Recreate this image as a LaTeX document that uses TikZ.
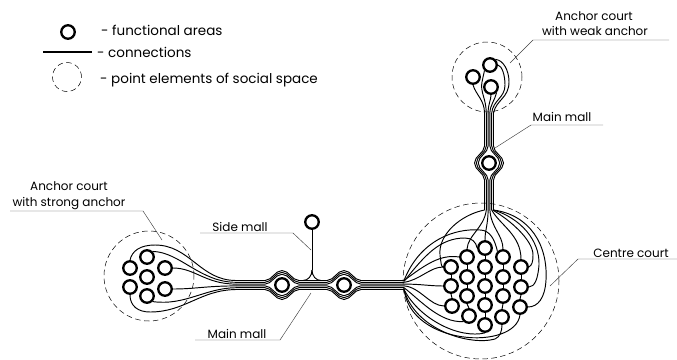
\documentclass[tikz,border=0pt]{standalone}
\usepackage{fontspec}
\setmainfont{Poppins}
\usetikzlibrary{calc}

% Estilos del dibujo
\tikzset{
  area/.style={circle, draw, line width=2.3pt, minimum size=13.5pt, inner sep=0pt},
  social/.style={circle, draw, line width=0.5pt, dash pattern=on 5.5pt off 3.5pt, inner sep=0pt},
  conexion/.style={line width=0.95pt},
  guia/.style={line width=0.45pt, black!75},
  rotulo/.style={font=\fontsize{12}{14}\selectfont, inner sep=0pt, anchor=base},
  leyenda/.style={font=\fontsize{13.5}{16}\selectfont, inner sep=0pt, anchor=base west},
}

\begin{document}
\begin{tikzpicture}[x=1pt, y=-1pt]
\useasboundingbox (0,0) rectangle (677,359);

% Leyenda arriba a la izquierda
\node[area] (leyArea) at (68,32) {};
\node[leyenda] (leyAreaT) at (101,35) {- functional areas};
\coordinate (leyIni) at (43,52);
\coordinate (leyFin) at (92,52);
\draw[line width=1.8pt] (leyIni) -- (leyFin);
\node[leyenda] (leyConT) at (97,57) {- connections};
\node[social, minimum size=29pt] (leySoc) at (67,77) {};
\node[leyenda] (leySocT) at (100,83) {- point elements of social space};

% Los espacios sociales (circulos discontinuos)
\node[social, minimum size=70pt] (zonaDebil) at (487,77) {};
\node[social, minimum size=90pt] (zonaFuerte) at (149,276) {};
\node[social, minimum size=156pt] (zonaCentro) at (481,281) {};

% Areas funcionales: ancla debil
\node[area] (wa) at (473,77) {};
\node[area] (wb) at (490,65) {};
\node[area] (wc) at (491,87) {};

% Areas funcionales: ancla fuerte
\node[area] (s1) at (147,257) {};
\node[area] (s2) at (130,268) {};
\node[area] (s3) at (165,268) {};
\node[area] (s4) at (147,277) {};
\node[area] (s5) at (130,287) {};
\node[area] (s6) at (165,289) {};
\node[area] (s7) at (147,296) {};

% Areas funcionales: patio central
\foreach \n/\x/\y in {1/485/248, 2/467/257, 3/503/257, 4/451/267, 5/485/267,
    6/521/267, 7/467/277, 8/503/277, 9/451/286, 10/485/286, 11/521/287,
    12/467/296, 13/503/296, 14/452/306, 15/485/305, 16/520/307,
    17/469/316, 18/502/317, 19/485/325}
  \node[area] (c\n) at (\x,\y) {};

% Pasillos: nodos sueltos
\node[area] (m1) at (282,285) {};
\node[area] (m2) at (344,285) {};
\node[area] (sm) at (312,222) {};
\node[area] (w) at (489,163) {};

\coordinate (jStrong) at (236,285);
\coordinate (jLeft) at (404,285);
\coordinate (jWeak) at (489,113);
\coordinate (jTop) at (489,210);
\coordinate (jSide) at (312,270);

% Haz horizontal del pasillo principal, se abre alrededor de cada nodo
\foreach \k in {1,2,3}{
  \foreach \s in {-1,1}{
    \pgfmathsetmacro\o{\s*(\k-0.5)*1.8}
    \pgfmathsetmacro\b{\s*(8.8+\k*1.9)}
    \draw[conexion] ($(jStrong)+(0,\o)$) -- ($(m1)+(-17,\o)$)
      .. controls ($(m1)+(-10,\o)$) and ($(m1)+(-7,\b)$) .. ($(m1)+(0,\b)$)
      .. controls ($(m1)+(7,\b)$) and ($(m1)+(10,\o)$) .. ($(m1)+(17,\o)$)
      -- ($(m2)+(-17,\o)$)
      .. controls ($(m2)+(-10,\o)$) and ($(m2)+(-7,\b)$) .. ($(m2)+(0,\b)$)
      .. controls ($(m2)+(7,\b)$) and ($(m2)+(10,\o)$) .. ($(m2)+(17,\o)$)
      -- ($(jLeft)+(0,\o)$);
    % Haz vertical hacia el ancla debil
    \draw[conexion] ($(jWeak)+(\o,0)$) -- ($(w)+(\o,-17)$)
      .. controls ($(w)+(\o,-10)$) and ($(w)+(\b,-7)$) .. ($(w)+(\b,0)$)
      .. controls ($(w)+(\b,7)$) and ($(w)+(\o,10)$) .. ($(w)+(\o,17)$)
      -- ($(jTop)+(\o,0)$);
  }
}

% Pasillo lateral con su bifurcacion
\draw[conexion] (sm.south) -- (jSide);
\draw[conexion] (jSide) .. controls ($(jSide)+(0,6)$) and ($(jSide)+(-4,10.5)$) .. ($(jSide)+(-9,10.5)$);
\draw[conexion] (jSide) .. controls ($(jSide)+(0,6)$) and ($(jSide)+(4,10.5)$) .. ($(jSide)+(9,10.5)$);

% Abanico del ancla fuerte
\draw[conexion] ($(jStrong)+(0,-4.5)$) .. controls (200,280.5) and (190,245) .. (155,245)
  .. controls (140,245) and (132,251) .. (s2.north);
\draw[conexion] ($(jStrong)+(0,-2.7)$) .. controls (200,282.3) and (180,252) .. (s1.north east);
\draw[conexion] ($(jStrong)+(0,-0.9)$) .. controls (205,284) and (195,268) .. (s3.east);
\draw[conexion] ($(jStrong)+(0,0.9)$) .. controls (205,286) and (195,289) .. (s6.east);
\draw[conexion] ($(jStrong)+(0,2.7)$) .. controls (205,288) and (185,306) .. (s7.south east);
\draw[conexion] ($(jStrong)+(0,4.5)$) .. controls (200,290) and (185,312) .. (150,312)
  .. controls (138,312) and (130,306) .. (s5.south);

% Abanico del ancla debil
\draw[conexion] ($(jWeak)+(-4.5,0)$) .. controls (484.5,100) and (476,95) .. (wa.south);
\draw[conexion] ($(jWeak)+(-2.7,0)$) .. controls (486,98) and (480,92) .. (482,82)
  .. controls (483,77) and (484,73) .. (wb.south west);
\draw[conexion] ($(jWeak)+(-0.9,0)$) .. controls (488.1,104) and (491,100) .. (wc.south);
\draw[conexion] ($(jWeak)+(0.9,0)$) .. controls (490,105) and (495,100) .. (wc.south east);
\draw[conexion] ($(jWeak)+(2.7,0)$) .. controls (493,100) and (505,98) .. (505,85)
  .. controls (505,75) and (502,66) .. (wb.east);
\draw[conexion] ($(jWeak)+(4.5,0)$) .. controls (496,100) and (509,98) .. (509,82)
  .. controls (509,70) and (503,60) .. (wb.north east);

% Abanico superior del patio central
\draw[conexion] ($(jTop)+(-4.5,0)$) .. controls (460,215) and (438,235) .. (440,255)
  .. controls (441,262) and (441,267) .. (c4.west);
\draw[conexion] ($(jTop)+(-2.7,0)$) .. controls (484,228) and (468,235) .. (c2.north);
\draw[conexion] ($(jTop)+(-0.9,0)$) .. controls (488,225) and (485,230) .. (c1.north);
\draw[conexion] ($(jTop)+(0.9,0)$) .. controls (491,228) and (503,235) .. (c3.north);
\draw[conexion] ($(jTop)+(2.7,0)$) .. controls (500,225) and (521,235) .. (c6.north);
\draw[conexion] ($(jTop)+(3.6,0)$) .. controls (510,220) and (533,240) .. (533,255)
  .. controls (533,262) and (532,265) .. (c6.east);
\draw[conexion] ($(jTop)+(4.5,0)$) .. controls (520,218) and (540,240) .. (539,265)
  .. controls (538,278) and (535,287) .. (c11.east);
\draw[conexion] ($(jTop)+(4.5,0)$) .. controls (530,215) and (548,245) .. (546,280)
  .. controls (545,298) and (538,307) .. (c16.east);

% Abanico izquierdo del patio central
\draw[conexion] ($(jLeft)+(0,-4.5)$) .. controls (420,240) and (455,228) .. (480,230)
  .. controls (490,230) and (495,240) .. (c3.north west);
\draw[conexion] ($(jLeft)+(0,-3.6)$) .. controls (425,255) and (440,238) .. (465,238)
  .. controls (472,238) and (476,242) .. (c1.west);
\draw[conexion] ($(jLeft)+(0,-4.5)$) .. controls (425,265) and (440,254) .. (c2.west);
\draw[conexion] ($(jLeft)+(0,-2.7)$) .. controls (420,280) and (430,267) .. (c4.west);
\draw[conexion] ($(jLeft)+(0,-0.9)$) .. controls (420,284) and (430,286) .. (c9.west);
\draw[conexion] ($(jLeft)+(0,0.9)$) .. controls (420,287) and (430,306) .. (c14.west);
\draw[conexion] ($(jLeft)+(0,2.7)$) .. controls (420,300) and (440,323) .. (c17.south west);
\draw[conexion] ($(jLeft)+(0,4.5)$) .. controls (420,320) and (460,339) .. (c19.south);
\draw[conexion] ($(jLeft)+(0,4.5)$) .. controls (415,330) and (470,346) .. (495,339)
  .. controls (500,337) and (502,331) .. (c18.south);
\draw[conexion] ($(jLeft)+(0,3.6)$) .. controls (410,346) and (515,351) .. (c16.south);

% Uniones cortas dentro del patio central
\foreach \a/\b in {1/5, 5/10, 10/15, 15/19, 2/7, 7/12, 12/17, 3/8, 8/13, 13/18,
    4/9, 9/14, 6/11, 11/16}
  \draw[conexion] (c\a.south) -- (c\b.north);

% Rotulos con su linea guia
\node[rotulo] (tDebil1) at (594,20.5) {Anchor court};
\node[rotulo] (tDebil2) at (595,35.5) {with weak anchor};
\draw[guia] (669,40) -- (533,40) -- (510,63);

\node[rotulo] (tMall1) at (562,121.5) {Main mall};
\draw[guia] (603,125) -- (531,125) -- (495,148);

\node[rotulo] (tSide) at (240,231.5) {Side mall};
\draw[guia] (200,233) -- (293,233) -- (311,250);

\node[rotulo] (tMall2) at (237,338) {Main mall};
\draw[guia] (195,340) -- (280,340) -- (311,293);

\node[rotulo] (tFuerte1) at (69,190.5) {Anchor court};
\node[rotulo] (tFuerte2) at (69,206.5) {with strong anchor};
\draw[guia] (10,211) -- (143,211) -- (162,240);

\node[rotulo] (tCentro) at (631,257) {Centre court};
\draw[guia] (677,259) -- (578,259) -- (550,286);
\end{tikzpicture}
\end{document}
